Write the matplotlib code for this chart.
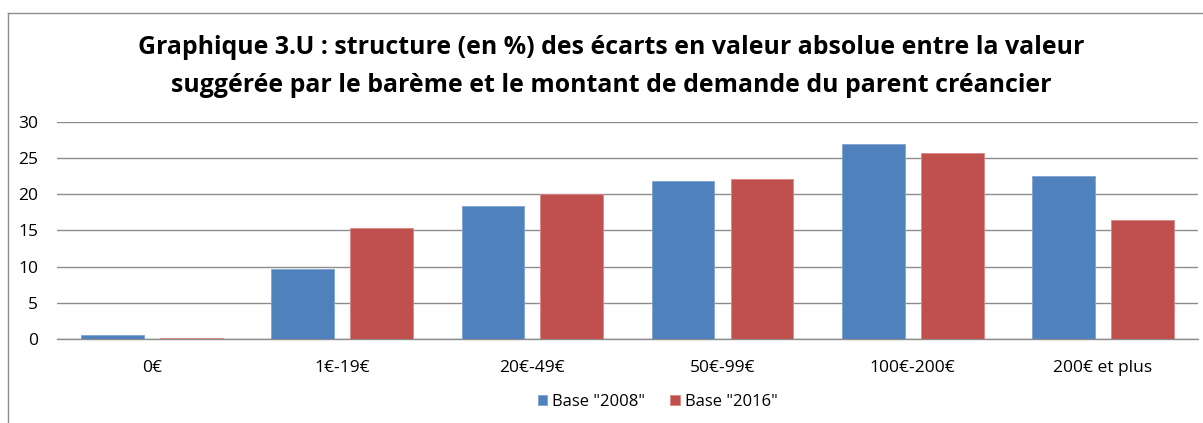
import numpy as np
import matplotlib
matplotlib.use('Agg')
import matplotlib.pyplot as plt
from matplotlib.lines import Line2D

plt.rcParams['font.family'] = ['Open Sans', 'DejaVu Sans']

categories = ['0€', '1€-19€', '20€-49€', '50€-99€', '100€-200€', '200€ et plus']
base_2008 = [0.55, 9.7, 18.35, 21.8, 26.9, 22.5]
base_2016 = [0.2, 15.4, 20.05, 22.1, 25.7, 16.5]

BLUE = '#4F81BD'
RED = '#C0504D'

fig = plt.figure(figsize=(12.03, 4.23), dpi=100)
ax = fig.add_axes([0.0474, 0.1986, 0.9484, 0.513])

x = np.arange(len(categories))
w = 0.33
ax.bar(x - 0.2075, base_2008, w, color=BLUE, edgecolor='#7FA3D0', linewidth=0.6,
       label='Base "2008"', zorder=3)
ax.bar(x + 0.2075, base_2016, w, color=RED, edgecolor='#D98986', linewidth=0.6,
       label='Base "2016"', zorder=3)

ax.set_xlim(-0.5, len(categories) - 0.5)
ax.set_ylim(0, 30)
ax.set_yticks(range(0, 31, 5))
ax.set_xticks(x)
ax.set_xticklabels(categories)
ax.yaxis.grid(True, color='#8C8C8C', linewidth=1.0, zorder=0)
ax.set_axisbelow(True)
for s in ['top', 'right', 'left']:
    ax.spines[s].set_visible(False)
ax.spines['bottom'].set_color('#8C8C8C')
ax.spines['bottom'].set_linewidth(1.0)
ax.tick_params(axis='both', length=0, labelsize=12.5, colors='black')
ax.tick_params(axis='y', pad=13.5)
ax.tick_params(axis='x', pad=15)

fig.text(0.508, 0.842,
         'Graphique 3.U : structure (en %) des écarts en valeur absolue entre la valeur\n'
         'suggérée par le barème et le montant de demande du parent créancier',
         ha='center', va='center', fontsize=17.9, fontweight='bold',
         linespacing=1.7)

ax.legend(loc='center', bbox_to_anchor=(0.5265, -0.29), ncol=2, frameon=False,
          fontsize=12, handlelength=0.55, handleheight=0.55, handletextpad=0.3,
          columnspacing=1.5)

# chart border (partly cut off on the right and bottom)
fig.add_artist(Line2D([8 / 1203, 1.0], [1 - 13 / 423, 1 - 13 / 423],
                      transform=fig.transFigure, color='#8C8C8C', linewidth=1.0))
fig.add_artist(Line2D([8 / 1203, 8 / 1203], [0.0, 1 - 13 / 423],
                      transform=fig.transFigure, color='#8C8C8C', linewidth=1.0))

fig.savefig('out.png', dpi=100)
